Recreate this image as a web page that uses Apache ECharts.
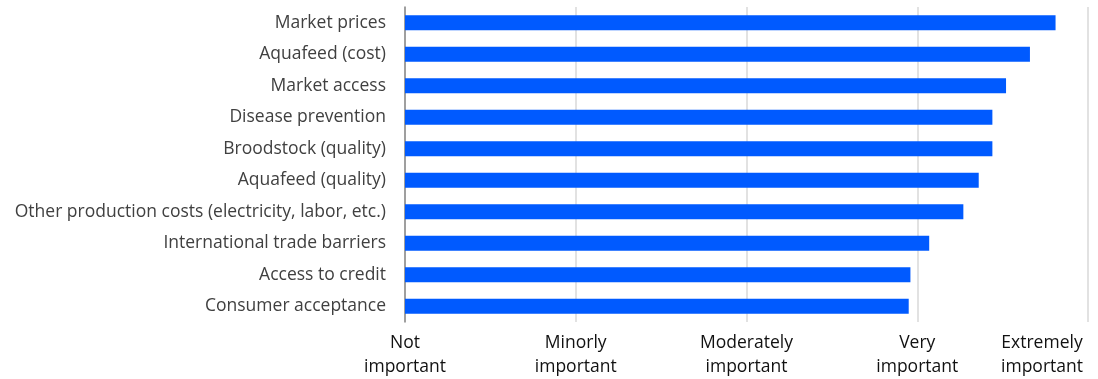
<!DOCTYPE html>
<html>
<head>
<meta charset="utf-8">
<script src="https://cdn.jsdelivr.net/npm/echarts@6/dist/echarts.min.js"></script>
<style>
html,body{margin:0;padding:0;background:#fff;}
#chart{width:1098px;height:379px;}
</style>
</head>
<body>
<div id="chart"></div>
<script>
const categories = [
  "Market prices",
  "Aquafeed (cost)",
  "Market access",
  "Disease prevention",
  "Broodstock (quality)",
  "Aquafeed (quality)",
  "Other production costs (electricity, labor, etc.)",
  "International trade barriers",
  "Access to credit",
  "Consumer acceptance"
];
const values = [4.81, 4.66, 4.52, 4.44, 4.44, 4.36, 4.27, 4.07, 3.96, 3.95];
const tickLabels = {
  1: ["Not", "important"],
  2: ["Minorly", "important"],
  3: ["Moderately", "important"],
  4: ["Very", "important"],
  5: ["Extremely", "important"]
};

const chart = echarts.init(document.getElementById('chart'), null, {renderer: 'canvas'});
chart.setOption({
  animation: false,
  textStyle: {fontFamily: "Open Sans"},
  grid: {left: 405, right: 10, top: 7, bottom: 57, containLabel: false, outerBoundsMode: 'none'},
  xAxis: {
    type: 'value',
    min: 1, max: 5, interval: 1,
    axisLine: {show: false},
    axisTick: {show: false},
    splitLine: {show: true, lineStyle: {color: '#d9d9d9', width: 1.5}},
    axisLabel: {
      formatter: v => {
        const t = tickLabels[v];
        if (!t) return '';
        if (v === 5) return '{e|' + t[0] + '}\n{e|' + t[1] + '}';
        return t.join('\n');
      },
      rich: {e: {width: 92, align: 'center', fontSize: 17.5, lineHeight: 24, color: '#111', fontFamily: "Open Sans"}},
      color: '#111',
      fontSize: 17.5,
      lineHeight: 24,
      margin: 9,
      hideOverlap: false,
      alignMaxLabel: 'right',
      fontFamily: "Open Sans"
    }
  },
  yAxis: {
    type: 'category',
    data: categories,
    inverse: true,
    axisLine: {show: true, lineStyle: {color: '#888', width: 1.5}},
    axisTick: {show: false},
    axisLabel: {color: '#404040', fontSize: 17.5, margin: 19, fontFamily: "Open Sans"}
  },
  series: [{
    type: 'bar',
    data: values,
    barWidth: '48%',
    itemStyle: {color: '#005AFF'},
    z: 3
  }]
});
</script>
</body>
</html>
